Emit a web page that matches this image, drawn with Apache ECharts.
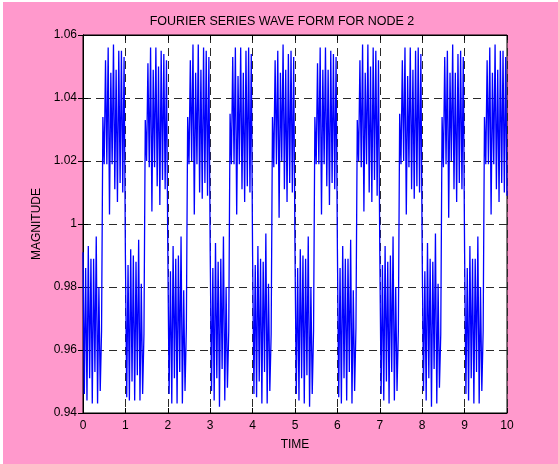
<!DOCTYPE html>
<html>
<head>
<meta charset="utf-8">
<script src="https://cdn.jsdelivr.net/npm/echarts@6/dist/echarts.min.js"></script>
<style>
html,body{margin:0;padding:0;background:#fff;}
#c{width:558px;height:464px;}
</style>
</head>
<body>
<div id="c"></div>
<script>
var timeStep = 1 / 32;
var timeStart = 0;
var xTicks = [0,1,2,3,4,5,6,7,8,9,10];
var yTicks = [0.94,0.96,0.98,1,1.02,1.04,1.06];
var period0 = [0.991,0.946,0.986,0.944,0.993,0.951,0.989,0.943,0.989,0.953,0.996,0.943,0.980,0.947,0.966,1.034,1.019,1.052,1.019,1.056,1.003,1.048,1.019,1.057,1.011,1.049,1.007,1.055,1.013,1.055,1.010,1.053];
var period1 = [0.990,0.945,0.987,0.944,0.992,0.950,0.990,0.944,0.988,0.952,0.995,0.944,0.981,0.946,0.965,1.033,1.020,1.051,1.018,1.056,1.004,1.049,1.018,1.056,1.012,1.050,1.006,1.055,1.014,1.054,1.011,1.052];
var period2 = [0.992,0.946,0.985,0.943,0.993,0.951,0.989,0.943,0.990,0.953,0.996,0.943,0.979,0.947,0.967,1.034,1.019,1.052,1.020,1.057,1.003,1.048,1.019,1.057,1.010,1.049,1.008,1.056,1.013,1.055,1.009,1.053];
var period3 = [0.991,0.947,0.986,0.944,0.994,0.951,0.988,0.942,0.989,0.954,0.996,0.944,0.980,0.948,0.966,1.035,1.019,1.053,1.019,1.056,1.003,1.047,1.019,1.056,1.011,1.048,1.007,1.055,1.012,1.056,1.010,1.054];
var period4 = [0.990,0.946,0.987,0.945,0.993,0.950,0.989,0.943,0.988,0.953,0.997,0.943,0.981,0.947,0.965,1.034,1.018,1.052,1.019,1.055,1.002,1.048,1.020,1.057,1.011,1.049,1.007,1.054,1.013,1.055,1.010,1.053];
var period5 = [0.991,0.946,0.986,0.944,0.992,0.951,0.990,0.943,0.989,0.952,0.996,0.942,0.980,0.946,0.966,1.034,1.019,1.051,1.019,1.056,1.003,1.049,1.019,1.056,1.012,1.049,1.006,1.055,1.013,1.054,1.011,1.053];
var period6 = [0.992,0.945,0.986,0.943,0.993,0.951,0.989,0.944,0.989,0.953,0.995,0.943,0.979,0.947,0.967,1.033,1.020,1.052,1.018,1.057,1.004,1.048,1.019,1.057,1.010,1.050,1.007,1.056,1.014,1.055,1.009,1.052];
var period7 = [0.991,0.946,0.987,0.944,0.993,0.950,0.988,0.943,0.990,0.953,0.996,0.944,0.980,0.947,0.966,1.035,1.019,1.052,1.020,1.056,1.003,1.047,1.018,1.056,1.011,1.049,1.008,1.055,1.012,1.056,1.010,1.054];
var period8 = [0.990,0.947,0.985,0.944,0.994,0.951,0.989,0.942,0.988,0.954,0.997,0.943,0.981,0.948,0.965,1.034,1.018,1.053,1.019,1.055,1.002,1.048,1.020,1.057,1.011,1.048,1.007,1.054,1.013,1.055,1.011,1.053];
var period9 = [0.991,0.946,0.986,0.944,0.993,0.951,0.989,0.943,0.989,0.953,0.996,0.943,0.980,0.947,0.966,1.034,1.019,1.052,1.019,1.056,1.003,1.048,1.019,1.057,1.011,1.049,1.007,1.055,1.013,1.055,1.010,1.053,1.009];

var magnitude = [].concat(period0,period1,period2,period3,period4,period5,period6,period7,period8,period9);
var seriesData = magnitude.map(function(v,i){ return [timeStart + i*timeStep, v]; });

var FONT = 'Liberation Sans, Arial, sans-serif';
var chart = echarts.init(document.getElementById('c'), null, {renderer:'canvas'});
var gridLine = {show:true, lineStyle:{color:'#2a2a2a', width:1, type:[8,5]}};
var labelFmt = function(v){ return String(parseFloat(Number(v).toFixed(2))); };
chart.setOption({
  animation:false,
  backgroundColor:'#ff99cc',
  title:{text:'FOURIER SERIES WAVE FORM FOR NODE 2', left:277, textAlign:'center', top:10,
    textStyle:{fontFamily:FONT, fontSize:12.5, fontWeight:'normal', color:'#000'}},
  graphic:[
    {type:'rect', shape:{x:0,y:0,width:558,height:2}, style:{fill:'#fff'}, silent:true},
    {type:'rect', shape:{x:0,y:0,width:3,height:464}, style:{fill:'#fff'}, silent:true}
  ],
  grid:{left:83, right:51, top:35, bottom:51, show:true, backgroundColor:'#fff', borderColor:'#000', borderWidth:1},
  xAxis:[
    {type:'value', min:xTicks[0], max:xTicks[xTicks.length-1], interval:1, position:'bottom',
     name:'TIME', nameLocation:'middle', nameGap:26,
     nameTextStyle:{fontFamily:FONT, fontSize:12, color:'#000'},
     axisLine:{show:true, lineStyle:{color:'#000', width:1}},
     axisTick:{show:true, inside:true, length:5, lineStyle:{color:'#000'}},
     axisLabel:{fontFamily:FONT, fontSize:12, color:'#000', margin:7},
     splitLine:gridLine},
    {type:'value', min:xTicks[0], max:xTicks[xTicks.length-1], interval:1, position:'top',
     axisLine:{show:true, lineStyle:{color:'#000', width:1}},
     axisTick:{show:true, inside:true, length:5, lineStyle:{color:'#000'}},
     axisLabel:{show:false}, splitLine:{show:false}}
  ],
  yAxis:[
    {type:'value', min:yTicks[0], max:yTicks[yTicks.length-1], interval:0.02, position:'left',
     name:'MAGNITUDE', nameLocation:'middle', nameGap:37, nameRotate:90,
     nameTextStyle:{fontFamily:FONT, fontSize:12, color:'#000'},
     axisLine:{show:true, lineStyle:{color:'#000', width:1}},
     axisTick:{show:true, inside:true, length:5, lineStyle:{color:'#000'}},
     axisLabel:{fontFamily:FONT, fontSize:12, color:'#000', margin:6, formatter:labelFmt},
     splitLine:gridLine},
    {type:'value', min:yTicks[0], max:yTicks[yTicks.length-1], interval:0.02, position:'right',
     axisLine:{show:true, lineStyle:{color:'#000', width:1}},
     axisTick:{show:true, inside:true, length:5, lineStyle:{color:'#000'}},
     axisLabel:{show:false}, splitLine:{show:false}}
  ],
  series:[{
    type:'line', xAxisIndex:0, yAxisIndex:0, data:seriesData,
    showSymbol:false, symbol:'none', smooth:false,
    lineStyle:{color:'#0000ff', width:1.3}
  }]
});
</script>
</body>
</html>
